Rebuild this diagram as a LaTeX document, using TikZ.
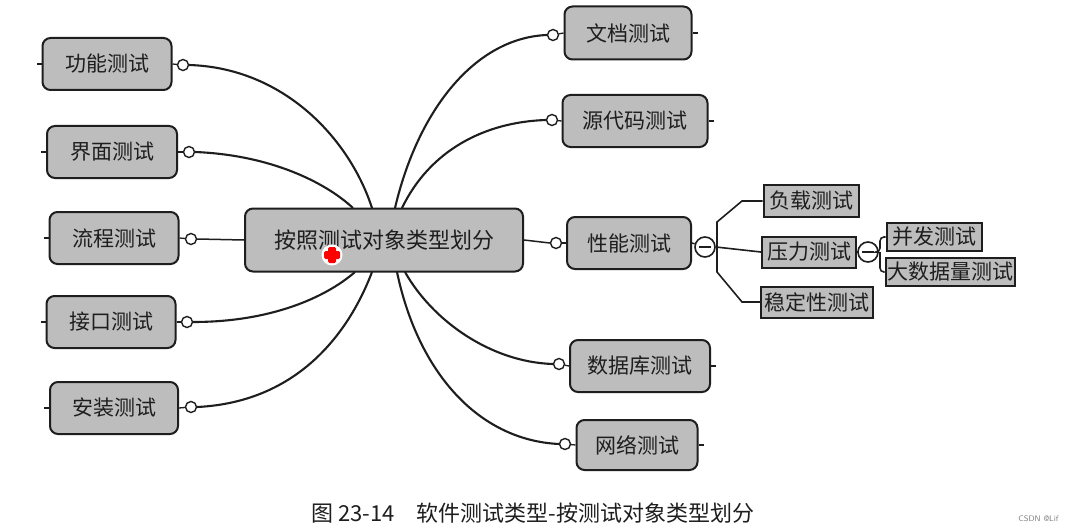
\documentclass[tikz,border=0pt]{standalone}
\usepackage{fontspec}
\newfontfamily\cjk{Noto Sans CJK SC}
\definecolor{boxfill}{HTML}{BDBDBD}
\definecolor{txt}{HTML}{1E1E1E}
\begin{document}
\begin{tikzpicture}[x=1pt,y=-1pt,
  lbox/.style={draw=txt, line width=2pt, rounded corners=8pt, fill=boxfill, inner sep=0pt,
     minimum height=52pt, text=txt, font=\cjk\fontsize{21}{21}\selectfont},
  sbox/.style={draw=txt, line width=2pt, fill=boxfill, inner sep=0pt,
     text=txt, font=\cjk\fontsize{21}{21}\selectfont},
  knob/.style={circle, draw=txt, line width=1.4pt, fill=white, minimum size=11pt, inner sep=0pt},
  minus/.style={circle, draw=txt, line width=1.6pt, fill=white, minimum size=20pt, inner sep=0pt,
     path picture={\draw[line width=1.6pt,txt] ([xshift=-6pt]path picture bounding box.center) -- ([xshift=6pt]path picture bounding box.center);}},
  conn/.style={draw=txt, line width=2.1pt},
  stub/.style={draw=txt, line width=1.3pt}
]
\useasboundingbox[fill=white] (0,0) rectangle (1070,532);

% center
\node[lbox, minimum width=278pt, minimum height=63pt, font=\cjk\fontsize{22}{22}\selectfont] (c) at (384,240) {按照测试对象类型划分};

% left nodes
\node[lbox, minimum width=129pt] (gn) at (107,64) {功能测试};
\node[lbox, minimum width=130pt] (jm) at (112,152) {界面测试};
\node[lbox, minimum width=129pt] (lc) at (114,238) {流程测试};
\node[lbox, minimum width=129pt] (jk) at (111,322) {接口测试};
\node[lbox, minimum width=128pt] (az) at (114,408) {安装测试};

\node[knob] (kgn) at (183,65) {};
\node[knob] (kjm) at (189,152) {};
\node[knob] (klc) at (191,239) {};
\node[knob] (kjk) at (187,322) {};
\node[knob] (kaz) at (191,407) {};

% right nodes
\node[lbox, minimum width=127pt, minimum height=53pt] (wd) at (628,33) {文档测试};
\node[lbox, minimum width=145pt] (ydm) at (635,121) {源代码测试};
\node[lbox, minimum width=124pt, minimum height=52pt] (xn) at (629,243) {性能测试};
\node[lbox, minimum width=140pt] (sjk) at (640,366) {数据库测试};
\node[lbox, minimum width=121pt, minimum height=50pt] (wl) at (637,445) {网络测试};

\node[knob] (kwd) at (553,35) {};
\node[knob] (kydm) at (552,120) {};
\node[knob] (kxn) at (556,243) {};
\node[knob] (ksjk) at (559,364) {};
\node[knob] (kwl) at (565,444) {};

% sub nodes
\node[sbox, minimum width=95pt, minimum height=32pt] (fz) at (811,201) {负载测试};
\node[sbox, minimum width=94pt, minimum height=31pt] (yl) at (809,252) {压力测试};
\node[sbox, minimum width=112pt, minimum height=31pt] (wdx) at (817,302) {稳定性测试};
\node[sbox, minimum width=95pt, minimum height=28pt] (bf) at (934,237) {并发测试};
\node[sbox, minimum width=129pt, minimum height=28pt] (dsj) at (950,272) {大数据量测试};

\node[minus] (m1) at (705,247) {};
\node[minus] (m2) at (868,252) {};

% stubs
\foreach \n in {gn,jm,lc,jk,az} {\draw[stub] (\n.west) -- ++(-5,0);}
\foreach \n in {wd,ydm,sjk,wl} {\draw[stub] (\n.east) -- ++(5,0);}
\draw[stub] (gn.east) -- (kgn);
\draw[stub] (jm.east) -- (kjm);
\draw[stub] (lc.east) -- (klc);
\draw[stub] (jk.east) -- (kjk);
\draw[stub] (az.east) -- (kaz);
\draw[stub] (wd.west) -- (kwd);
\draw[stub] (ydm.west) -- (kydm);
\draw[stub] (xn.west) -- (kxn);
\draw[stub] (sjk.west) -- (ksjk);
\draw[stub] (wl.west) -- (kwl);
\draw[stub, line width=1.5pt] (xn.east) -- (m1);
\draw[stub, line width=1.5pt] (yl.east) -- (m2);

% curves from center
\coordinate (t1) at (372,208);
\coordinate (t2) at (353,208);
\coordinate (t3) at (395,208);
\coordinate (t4) at (402,208);
\coordinate (b1) at (355,272);
\coordinate (b2) at (372,272);
\coordinate (b3) at (405,272);
\coordinate (b4) at (397,272);

\draw[conn] (kgn.east) .. controls (285,68) and (350,140) .. (t1);
\draw[conn] (kjm.east) .. controls (270,155) and (325,182) .. (t2);
\draw[conn, line width=1.5pt] (klc.east) -- (c.west);
\draw[conn] (kjk.east) .. controls (270,322) and (325,298) .. (b1);
\draw[conn] (kaz.east) .. controls (300,402) and (350,330) .. (b2);
\draw[conn] (t3) .. controls (418,110) and (475,38) .. (kwd.west);
\draw[conn] (t4) .. controls (430,150) and (485,122) .. (kydm.west);
\draw[conn] (b3) .. controls (432,320) and (490,362) .. (ksjk.west);
\draw[conn] (b4) .. controls (418,372) and (478,440) .. (kwl.west);
\draw[conn, line width=1.5pt] (c.east) -- (kxn.west);

% brackets
\coordinate (j1) at (717,247);
\draw[conn, line width=1.6pt] (m1.east) -- (yl.west);
\draw[conn, line width=1.6pt] (j1) -- (717,222) -- (742,201) -- (fz.west);
\draw[conn, line width=1.6pt] (j1) -- (717,272) -- (742,302) -- (wdx.west);
\coordinate (j2) at (880,252);
\draw[conn, line width=1.6pt, rounded corners=4pt] (m2.east) -- (j2) |- (bf.west);
\draw[conn, line width=1.6pt, rounded corners=4pt] (j2) |- (dsj.west);

% red mark
\fill[white] (332,255) circle (10.5pt);
\fill[red, rounded corners=1.5pt] (324,251) rectangle (340,259);
\fill[red, rounded corners=1.5pt] (328,247) rectangle (336,263);
\coordinate (rm) at (332,255);

% caption
\node[name=cap, text=txt, font=\cjk\fontsize{22}{22}\selectfont, anchor=west] at (308,513) {图 23-14\hspace{22pt}软件测试类型-按测试对象类型划分};
\node[name=wm, text=gray, font=\fontsize{8}{8}\selectfont\sffamily, anchor=east] at (1062,519) {CSDN @Lif};
\end{tikzpicture}
\end{document}
